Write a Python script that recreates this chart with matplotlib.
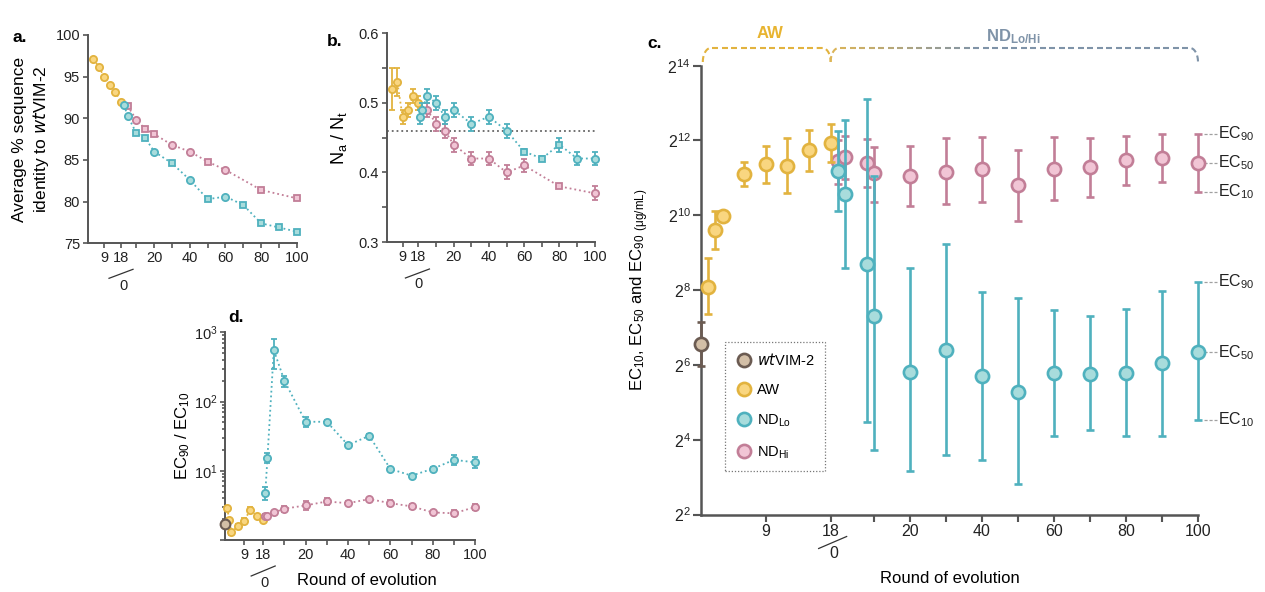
import numpy as np
import matplotlib
matplotlib.use("Agg")
import matplotlib.pyplot as plt
from matplotlib.lines import Line2D
from matplotlib.ticker import FixedLocator, FixedFormatter, LogLocator, NullLocator, NullFormatter, LogFormatterMathtext, MultipleLocator
from matplotlib.colors import to_rgb

plt.rcParams['font.family'] = ['Liberation Sans', 'DejaVu Sans']
plt.rcParams['mathtext.default'] = 'regular'

GOLD, GOLD_F = '#e2b33f', '#f9d680'
CYAN, CYAN_F = '#4fb1be', '#a8dcdc'
PINK, PINK_F = '#c27e97', '#f1c5d5'
WT, WT_F = '#6b5b52', '#d3bfa7'
SPINE = '#555555'
SLATE = '#7f93a8'

W, H = 1265, 592

# ---------------- data ----------------
nd_ticks = [10, 20, 30, 40, 50, 60, 70, 80, 90, 100]
nd_labels = ['', '20', '', '40', '', '60', '', '80', '', '100']

# a. average % sequence identity to wtVIM-2
a_aw_rounds = [3, 6, 9, 12, 15, 18]
a_aw_ident = [97.1, 96.2, 94.9, 94.0, 93.1, 92.0]
a_lo_rounds = [3, 5, 10, 15, 20, 30, 40, 50, 60, 70, 80, 90, 100]
a_lo_ident = [91.6, 90.3, 88.2, 87.6, 86.0, 84.6, 82.6, 80.3, 80.6, 79.6, 77.4, 76.9, 76.4]
a_lo_marks = "oossososossss"
a_hi_rounds = [5, 10, 15, 20, 30, 40, 50, 60, 80, 100]
a_hi_ident = [91.5, 89.8, 88.7, 88.1, 86.8, 86.0, 84.8, 83.8, 81.4, 80.4]
a_hi_marks = "sossoososs"

# b. Na / Nt
b_aw_rounds = [3, 6, 9, 12, 15, 18]
b_aw_ratio = [0.52, 0.53, 0.48, 0.49, 0.51, 0.50]
b_aw_err = [0.03, 0.02, 0.01, 0.01, 0.01, 0.01]
b_lo_rounds = [1, 2, 5, 10, 15, 20, 30, 40, 50, 60, 70, 80, 90, 100]
b_lo_ratio = [0.48, 0.49, 0.51, 0.50, 0.48, 0.49, 0.47, 0.48, 0.46, 0.43, 0.42, 0.44, 0.42, 0.42]
b_lo_err = [0.01, 0.01, 0.01, 0.01, 0.01, 0.01, 0.01, 0.01, 0.01, 0.003, 0.003, 0.01, 0.01, 0.01]
b_lo_marks = "ooooooooosssoo"
b_hi_rounds = [5, 10, 15, 20, 30, 40, 50, 60, 80, 100]
b_hi_ratio = [0.49, 0.47, 0.46, 0.44, 0.42, 0.42, 0.40, 0.41, 0.38, 0.37]
b_hi_err = [0.01, 0.01, 0.01, 0.01, 0.01, 0.01, 0.01, 0.01, 0.003, 0.01]
b_hi_marks = "oooooooo so".replace(' ', '')
b_threshold = 0.46

# c. EC10 / EC50 / EC90, log2(ug/mL)
c_wt = [6.55]
c_wt_lo = [5.97]
c_wt_hi = [7.14]
c_aw_rounds = [1, 2, 3, 6, 9, 12, 15, 18]
c_aw_ec50 = [8.09, 9.61, 9.98, 11.10, 11.36, 11.33, 11.74, 11.93]
c_aw_ec10 = [7.35, 9.10, 9.85, 10.78, 10.87, 10.59, 11.18, 11.43]
c_aw_ec90 = [8.87, 10.12, 10.12, 11.42, 11.85, 12.08, 12.28, 12.44]
c_nd_rounds = [0, 2, 8, 10, 20, 30, 40, 50, 60, 70, 80, 90, 100]
c_hi_ec50 = [11.45, 11.57, 11.41, 11.12, 11.05, 11.17, 11.23, 10.80, 11.25, 11.28, 11.47, 11.54, 11.41]
c_hi_ec10 = [10.84, 10.97, 10.75, 10.35, 10.25, 10.29, 10.35, 9.85, 10.41, 10.49, 10.81, 10.89, 10.63]
c_hi_ec90 = [12.01, 12.12, 12.04, 11.83, 11.86, 12.08, 12.09, 11.75, 12.09, 12.08, 12.13, 12.17, 12.17]
c_lo_ec50 = [11.18, 10.57, 8.70, 7.31, 5.80, 6.40, 5.69, 5.28, 5.79, 5.76, 5.79, 6.06, 6.34]
c_lo_ec10 = [10.11, 8.60, 4.47, 3.72, 3.17, 3.59, 3.46, 2.82, 4.10, 4.26, 4.10, 4.10, 4.53]
c_lo_ec90 = [12.26, 12.55, 13.10, 11.05, 8.59, 9.23, 7.94, 7.78, 7.47, 7.31, 7.49, 7.98, 8.22]

# d. EC90 / EC10
d_wt = [1.7]
d_wt_lo = [1.55]
d_wt_hi = [1.95]
d_aw_rounds = [1, 2, 3, 6, 9, 12, 15, 18]
d_aw_ratio = [2.9, 1.97, 1.29, 1.57, 1.9, 2.74, 2.2, 1.97]
d_aw_lo = [2.7, 1.85, 1.2, 1.45, 1.75, 2.55, 2.05, 1.85]
d_aw_hi = [3.1, 2.1, 1.38, 1.7, 2.05, 2.95, 2.35, 2.1]
d_nd_rounds = [1, 2, 5, 10, 20, 30, 40, 50, 60, 70, 80, 90, 100]
d_lo_ratio = [4.8, 15.2, 555, 200, 51, 51, 23.5, 32, 10.6, 8.5, 10.7, 14.4, 13.2]
d_lo_lo = [3.8, 12.9, 292, 164, 42.6, 48, 22, 30, 9.9, 8.0, 10.1, 12.2, 11.0]
d_lo_hi = [5.9, 18.0, 810, 234, 60.7, 54, 25, 34, 11.3, 9.0, 11.3, 17.0, 15.7]
d_hi_ratio = [2.25, 2.2, 2.5, 2.83, 3.16, 3.6, 3.4, 3.9, 3.4, 3.06, 2.5, 2.43, 3.0]
d_hi_lo = [2.1, 2.05, 2.35, 2.5, 2.75, 3.2, 3.2, 3.7, 3.1, 2.85, 2.35, 2.2, 2.7]
d_hi_hi = [2.4, 2.35, 2.65, 3.15, 3.65, 4.05, 3.6, 4.1, 3.75, 3.3, 2.65, 2.7, 3.35]

# ---------------- helpers ----------------
fig = plt.figure(figsize=(W / 100, H / 100), dpi=100)


def px_axes(l, t, r, b):
    return fig.add_axes([l / W, 1 - b / H, (r - l) / W, (b - t) / H])


def style(ax, aw_pos, xmin, fs, lw=1.4, tl=3.5):
    for s in ('top', 'right'):
        ax.spines[s].set_visible(False)
    for s in ('left', 'bottom'):
        ax.spines[s].set_color(SPINE)
        ax.spines[s].set_linewidth(lw)
    ax.set_xlim(xmin, 100)
    ax.set_xticks([aw_pos(9), aw_pos(18)] + nd_ticks)
    ax.set_xticklabels(['9', '18'] + nd_labels)
    ax.tick_params(which='both', direction='out', color=SPINE, width=lw * 0.85, labelsize=fs,
                   labelcolor='#222222', pad=2)
    ax.tick_params(which='major', length=tl)
    ax.tick_params(which='minor', length=tl * 0.6)


def slash_zero(ax, x18, xmin, fs, s0, s1, z):
    pos = ax.get_position()
    wpx, hpx = pos.width * W, pos.height * H
    fx = (x18 - xmin) / (100 - xmin)
    ax.plot([fx + s0[0] / wpx, fx + s1[0] / wpx], [-s0[1] / hpx, -s1[1] / hpx],
            transform=ax.transAxes, color='#333333', lw=0.9, clip_on=False)
    ax.text(fx + z[0] / wpx, -z[1] / hpx, '0', transform=ax.transAxes, ha='center', va='center',
            fontsize=fs, color='#222222')


def noclip(container):
    for art in container.get_children():
        art.set_clip_on(False)


def small_series(ax, x, y, marks, edge, face, err=None, ms=5.2, cs=2.2, z=3):
    x = np.asarray(x, float)
    y = np.asarray(y, float)
    ax.plot(x, y, ls=':', color=edge, lw=1.3, zorder=z - 1)
    if err is not None:
        eb = ax.errorbar(x, y, yerr=err, fmt='none', ecolor=edge, elinewidth=1.3, capsize=cs,
                         capthick=1.3, zorder=z)
        noclip(eb)
    for m in set(marks):
        idx = [i for i, c in enumerate(marks) if c == m]
        ax.plot(x[idx], y[idx], ls='', marker=m, ms=ms if m == 'o' else ms * 0.95, mfc=face,
                mec=edge, mew=1.3, zorder=z + 1, clip_on=False)


# ---------------- panel a ----------------
axa = px_axes(87.7, 35, 296.7, 243.3)
a_pos = lambda r: -17.4 + 1.04 * np.asarray(r, float)
style(axa, a_pos, -17.4, 10.5)
axa.set_ylim(75, 100)
axa.yaxis.set_major_locator(MultipleLocator(5))
small_series(axa, a_pos(a_aw_rounds), a_aw_ident, 'o' * len(a_aw_rounds), GOLD, GOLD_F)
small_series(axa, a_hi_rounds, a_hi_ident, a_hi_marks, PINK, PINK_F, z=3)
small_series(axa, a_lo_rounds, a_lo_ident, a_lo_marks, CYAN, CYAN_F, z=5)
axa.set_ylabel('Average % sequence\nidentity to $\\mathit{wt}$VIM-2', fontsize=12.5, linespacing=1.3)
axa.yaxis.set_label_coords(-0.175, 0.5)
slash_zero(axa, a_pos(18), -17.4, 10.5, (-12, 35), (12, 26), (2, 43))

# ---------------- panel b ----------------
axb = px_axes(386.7, 33.3, 594.7, 242)
b_pos = lambda r: np.asarray(r, float) - 18
style(axb, b_pos, -18, 10.5)
axb.set_ylim(0.3, 0.6)
axb.yaxis.set_major_locator(FixedLocator([0.3, 0.4, 0.5, 0.6]))
axb.yaxis.set_major_formatter(FixedFormatter(['0.3', '0.4', '0.5', '0.6']))
axb.yaxis.set_minor_locator(FixedLocator([0.35, 0.45, 0.55]))
axb.tick_params(axis='y', which='minor', length=3.5)
axb.plot([-18, 100], [b_threshold, b_threshold], ls=':', color='#666666', lw=1.3, zorder=1)
small_series(axb, b_pos(b_aw_rounds), b_aw_ratio, 'o' * 6, GOLD, GOLD_F, err=b_aw_err)
small_series(axb, b_hi_rounds, b_hi_ratio, b_hi_marks, PINK, PINK_F, err=b_hi_err)
small_series(axb, b_lo_rounds, b_lo_ratio, b_lo_marks, CYAN, CYAN_F, err=b_lo_err, z=5)
axb.set_ylabel('N$_a$ / N$_t$', fontsize=13)
axb.yaxis.set_label_coords(-0.18, 0.5)
slash_zero(axb, b_pos(18), -18, 10.5, (-13, 36), (11, 27), (0, 42))

# ---------------- panel d ----------------
axd = px_axes(225, 332.3, 475.3, 540)
d_pos = b_pos
style(axd, d_pos, -18, 10.5)
axd.set_yscale('log')
axd.set_ylim(1, 1000)
axd.yaxis.set_major_locator(FixedLocator([1, 10, 100, 1000]))
axd.yaxis.set_major_formatter(FixedFormatter(['', '$10^1$', '$10^2$', '$10^3$']))
axd.yaxis.set_minor_locator(LogLocator(base=10, subs=np.arange(2, 10)))
axd.yaxis.set_minor_formatter(NullFormatter())


def d_err(v, lo, hi):
    v, lo, hi = (np.asarray(a, float) for a in (v, lo, hi))
    return [v - lo, hi - v]


small_series(axd, d_pos(d_aw_rounds), d_aw_ratio, 'o' * 8, GOLD, GOLD_F,
             err=d_err(d_aw_ratio, d_aw_lo, d_aw_hi))
small_series(axd, d_nd_rounds, d_hi_ratio, 'o' * 13, PINK, PINK_F, err=d_err(d_hi_ratio, d_hi_lo, d_hi_hi))
small_series(axd, d_nd_rounds, d_lo_ratio, 'o' * 13, CYAN, CYAN_F, err=d_err(d_lo_ratio, d_lo_lo, d_lo_hi), z=5)
eb = axd.errorbar(d_pos([0]), d_wt, yerr=d_err(d_wt, d_wt_lo, d_wt_hi), fmt='o', ms=7, mfc=WT_F,
                  mec=WT, mew=1.5, ecolor=WT, elinewidth=1.3, capsize=2.2, zorder=8)
noclip(eb)
eb[0].set_clip_on(False)
axd.set_ylabel('EC$_{90}$ / EC$_{10}$', fontsize=12)
axd.yaxis.set_label_coords(-0.13, 0.5)
axd.set_xlabel('Round of evolution', fontsize=12)
axd.xaxis.set_label_coords(0.567, -0.16)
slash_zero(axd, d_pos(18), -18, 10.5, (-12, 36), (12, 26), (1, 43))

# ---------------- panel c ----------------
axc = px_axes(701, 65.7, 1198, 514.5)
c_pos = lambda r: 2.0 * np.asarray(r, float) - 38
style(axc, c_pos, -38, 11.5, lw=1.8, tl=5)
axc.set_yscale('log', base=2)
axc.set_ylim(2 ** 2, 2 ** 14)
axc.yaxis.set_major_locator(FixedLocator([2.0 ** k for k in range(2, 15, 2)]))
axc.yaxis.set_major_formatter(LogFormatterMathtext(base=2))
axc.yaxis.set_minor_locator(NullLocator())
axc.tick_params(axis='y', length=5.5)


def ec_series(x, mid, lo, hi, edge, face, z):
    mid, lo, hi = (2.0 ** np.asarray(a, float) for a in (mid, lo, hi))
    eb = axc.errorbar(x, mid, yerr=[mid - lo, hi - mid], fmt='o', ms=9.5, mfc=face, mec=edge, mew=1.9,
                      ecolor=edge, elinewidth=1.9, capsize=3.0, capthick=1.9, zorder=z)
    noclip(eb)
    eb[0].set_clip_on(False)


ec_series(c_pos([0]), c_wt, c_wt_lo, c_wt_hi, WT, WT_F, 6)
ec_series(c_pos(c_aw_rounds), c_aw_ec50, c_aw_ec10, c_aw_ec90, GOLD, GOLD_F, 4)
ec_series(c_nd_rounds, c_hi_ec50, c_hi_ec10, c_hi_ec90, PINK, PINK_F, 3)
ec_series(c_nd_rounds, c_lo_ec50, c_lo_ec10, c_lo_ec90, CYAN, CYAN_F, 5)

# EC labels at the right end
for ec10, ec50, ec90 in ((c_hi_ec10[-1], c_hi_ec50[-1], c_hi_ec90[-1]),
                         (c_lo_ec10[-1], c_lo_ec50[-1], c_lo_ec90[-1])):
    for v, name in ((ec90, '90'), (ec50, '50'), (ec10, '10')):
        axc.plot([101.6, 105.2], [2 ** v, 2 ** v], ls=(0, (2.5, 1.5)), color='#a0a0a0', lw=0.9, clip_on=False)
        axc.text(105.6, 2 ** v, 'EC$_{%s}$' % name, fontsize=11.5, va='center', ha='left', color='#222222')

axc.set_ylabel('EC$_{10}$, EC$_{50}$ and EC$_{90}$ $_{(\\mu g/mL)}$', fontsize=12)
axc.yaxis.set_label_coords(-0.1, 0.5)
axc.set_xlabel('Round of evolution', fontsize=12)
axc.xaxis.set_label_coords(0.5, -0.127)
slash_zero(axc, c_pos(18), -38, 11.5, (-12, 34), (16, 22), (3, 39))

handles = [Line2D([], [], ls='', marker='o', ms=9.5, mfc=f, mec=e, mew=1.9)
           for e, f in ((WT, WT_F), (GOLD, GOLD_F), (CYAN, CYAN_F), (PINK, PINK_F))]
leg = axc.legend(handles, ['$\\mathit{wt}$VIM-2', 'AW', 'ND$_{Lo}$', 'ND$_{Hi}$'], loc='upper left',
                 bbox_to_anchor=(0.048, 0.385), borderaxespad=0, fontsize=10.5, labelspacing=1.05,
                 handletextpad=0.3, handlelength=1.2, borderpad=0.7, fancybox=False, framealpha=1)
leg.get_frame().set_linestyle((0, (1, 1.5)))
leg.get_frame().set_edgecolor('#777777')
leg.get_frame().set_linewidth(0.9)


# brace above panel c
def c_px(x):
    return 701 + (x + 38) / 138.0 * 497


def brace(x0, x1, ytop=48, ybot=62, rx=8, ry=14):
    t1 = np.linspace(np.pi, np.pi / 2, 30)
    t2 = np.linspace(np.pi / 2, 0, 30)
    xs = np.r_[x0 + rx + rx * np.cos(t1), x1 - rx + rx * np.cos(t2)]
    ys = np.r_[ybot - ry * np.sin(t1), ybot - ry * np.sin(t2)]
    return xs, ys


def dashed_fig(xs, ys, colfun, on=6.0, off=3.5):
    seg = np.hypot(np.diff(xs), np.diff(ys))
    cum = np.r_[0, np.cumsum(seg)]
    fine = np.arange(0, cum[-1], 0.5)
    fx = np.interp(fine, cum, xs)
    fy = np.interp(fine, cum, ys)
    start = 0.0
    while start < cum[-1]:
        m = (fine >= start) & (fine <= start + on)
        if m.sum() > 1:
            fig.add_artist(Line2D(fx[m] / W, 1 - fy[m] / H, transform=fig.transFigure,
                                  color=colfun(fx[m].mean()), lw=1.5, solid_capstyle='butt'))
        start += on + off


x_aw0, x_mid, x_end = c_px(-37.5), c_px(-2), c_px(100)
xs, ys = brace(x_aw0, x_mid)
dashed_fig(xs, ys, lambda x: GOLD)
g, s = np.array(to_rgb('#ddb556')), np.array(to_rgb(SLATE))


def nd_col(x):
    f = np.clip((x - x_mid) / (0.4 * (x_end - x_mid)), 0, 1)
    return tuple(g * (1 - f) + s * f)


xs, ys = brace(x_mid, x_end)
dashed_fig(xs, ys, nd_col)
fig.text(770 / W, 1 - 33 / H, 'AW', color='#e8b430', fontsize=12, fontweight='bold', ha='center', va='center')
fig.text(1013 / W, 1 - 37 / H, 'ND$_{Lo/Hi}$', color=SLATE, fontsize=12, fontweight='bold', ha='center', va='center')

# panel letters
for lab, x, y in (('a.', 20, 37), ('b.', 335, 42), ('c.', 655, 43), ('d.', 236, 318)):
    fig.text(x / W, 1 - y / H, lab, fontsize=12.5, fontweight='bold', ha='center', va='center')

fig.savefig('out.png', dpi=100)
